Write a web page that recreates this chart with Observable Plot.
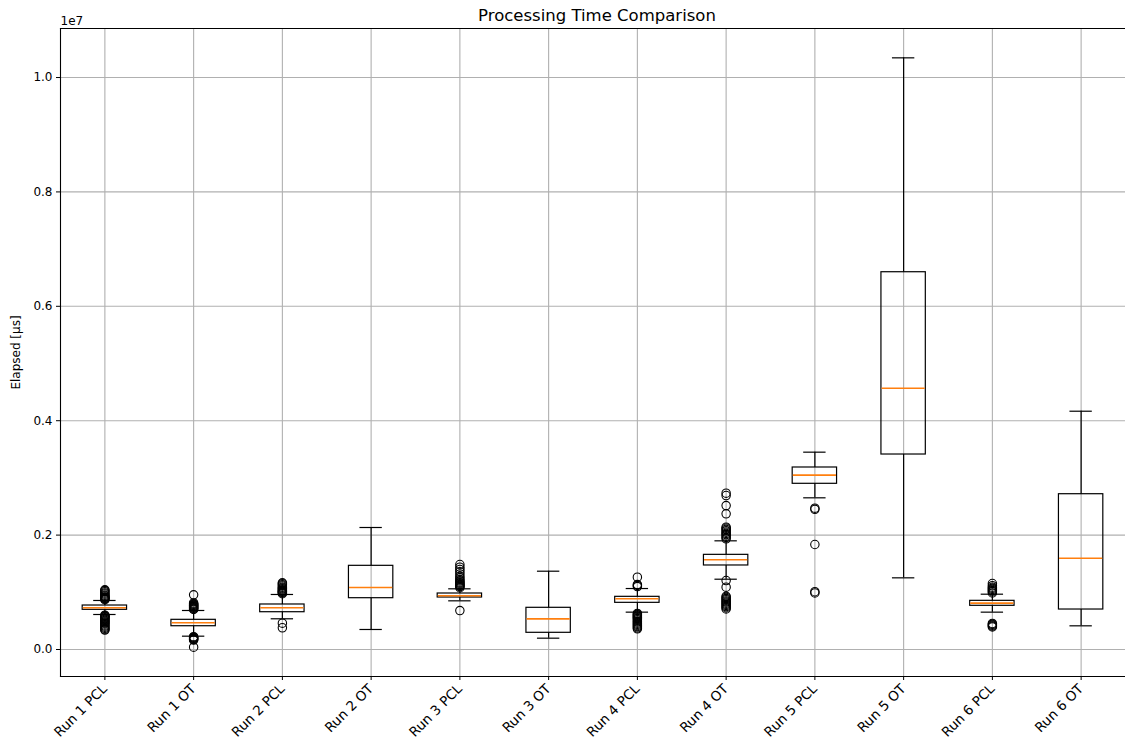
<!DOCTYPE html>
<html><head><meta charset="utf-8">
<script src="https://cdn.jsdelivr.net/npm/d3@7"></script>
<script src="https://cdn.jsdelivr.net/npm/@observablehq/plot@0.6"></script>
<style>body{margin:0;background:#fff;overflow:hidden}</style></head>
<body><div id="chart"></div>
<script>
const categories = ["Run 1 PCL","Run 1 OT","Run 2 PCL","Run 2 OT","Run 3 PCL","Run 3 OT","Run 4 PCL","Run 4 OT","Run 5 PCL","Run 5 OT","Run 6 PCL","Run 6 OT"];
// box statistics in microseconds
const whiskerLow  = [612e3, 233e3, 537e3, 350e3, 851e3, 198e3, 653e3, 1229e3, 2652e3, 1253e3, 653e3, 414e3];
const quartile1   = [694e3, 407e3, 652e3, 897e3, 909e3, 292e3, 816e3, 1469e3, 2897e3, 3409e3, 764e3, 699e3];
const medians     = [729e3, 467e3, 729e3, 1084e3, 939e3, 536e3, 886e3, 1568e3, 3048e3, 4568e3, 810e3, 1596e3];
const quartile3   = [769e3, 519e3, 787e3, 1463e3, 979e3, 729e3, 921e3, 1655e3, 3182e3, 6596e3, 851e3, 2715e3];
const whiskerHigh = [857e3, 682e3, 962e3, 2133e3, 1061e3, 1369e3, 1066e3, 1900e3, 3450e3, 10344e3, 967e3, 4166e3];
const outliers = [
  [870e3, 880e3, 890e3, 900e3, 910e3, 920e3, 935e3, 950e3, 970e3, 990e3, 1010e3, 1030e3, 1044e3, 600e3, 590e3, 580e3, 570e3, 555e3, 540e3, 525e3, 510e3, 495e3, 480e3, 465e3, 450e3, 430e3, 410e3, 390e3, 370e3, 350e3, 340e3],
  [700e3, 710e3, 720e3, 730e3, 740e3, 750e3, 760e3, 770e3, 780e3, 790e3, 800e3, 815e3, 956e3, 225e3, 215e3, 205e3, 195e3, 185e3, 175e3, 165e3, 40e3],
  [975e3, 990e3, 1000e3, 1010e3, 1020e3, 1030e3, 1045e3, 1060e3, 1075e3, 1090e3, 1110e3, 1130e3, 1150e3, 1166e3, 460e3, 380e3],
  [],
  [1080e3, 1100e3, 1110e3, 1120e3, 1135e3, 1150e3, 1165e3, 1180e3, 1200e3, 1220e3, 1250e3, 1280e3, 1320e3, 1360e3, 1400e3, 1440e3, 1486e3, 680e3],
  [],
  [1264e3, 1136e3, 1120e3, 1100e3, 630e3, 615e3, 600e3, 585e3, 570e3, 555e3, 540e3, 520e3, 500e3, 480e3, 460e3, 440e3, 420e3, 400e3, 380e3, 362e3],
  [1935e3, 1960e3, 1985e3, 2010e3, 2030e3, 2050e3, 2075e3, 2100e3, 2120e3, 2138e3, 2372e3, 2517e3, 2692e3, 2733e3, 1206e3, 1090e3, 930e3, 910e3, 890e3, 870e3, 850e3, 830e3, 810e3, 790e3, 770e3, 750e3, 730e3, 710e3],
  [2470e3, 2450e3, 1836e3, 1010e3, 990e3],
  [],
  [990e3, 1010e3, 1030e3, 1050e3, 1070e3, 1090e3, 1115e3, 1154e3, 455e3, 440e3, 425e3, 410e3, 395e3],
  []
];
const yTicks = [0, 2e6, 4e6, 6e6, 8e6, 10e6];
const titleText = "Processing Time Comparison";
const yLabel = "Elapsed [μs]";
const offsetText = "1e7";

const stats = categories.map((run, i) => ({run, wlo: whiskerLow[i], q1: quartile1[i], med: medians[i], q3: quartile3[i], whi: whiskerHigh[i]}));
const outlierRows = categories.flatMap((run, i) => outliers[i].map(value => ({run, value})));

const lw = 1.2;
const chart = Plot.plot({
  width: 1125, height: 740,
  marginLeft: 60, marginRight: 0, marginTop: 28, marginBottom: 64,
  style: {fontFamily: "'DejaVu Sans', sans-serif", fontSize: "12px", background: "#fff", color: "#000"},
  x: {type: "band", domain: categories, paddingInner: 0.5, paddingOuter: 0.25, round: false, label: null},
  y: {domain: [-472e3, 10857e3], ticks: yTicks, tickFormat: d => (d / 1e7).toFixed(1), label: yLabel, labelAnchor: "center", labelArrow: "none", labelOffset: 49, tickSize: 4, tickPadding: 4},
  marks: [
    Plot.ruleY(yTicks, {y: d => d, stroke: "#b0b0b0", strokeWidth: 1.1}),
    Plot.ruleX(categories, {x: d => d, stroke: "#b0b0b0", strokeWidth: 1.1}),
    Plot.axisX({tickRotate: -45, tickSize: 4, tickPadding: 6, fontSize: 13.5, label: null}),
    Plot.ruleX(stats, {x: "run", y1: "wlo", y2: "q1", stroke: "black", strokeWidth: lw}),
    Plot.ruleX(stats, {x: "run", y1: "q3", y2: "whi", stroke: "black", strokeWidth: lw}),
    Plot.tickY(stats, {x: "run", y: "wlo", stroke: "black", strokeWidth: lw, insetLeft: 11, insetRight: 11}),
    Plot.tickY(stats, {x: "run", y: "whi", stroke: "black", strokeWidth: lw, insetLeft: 11, insetRight: 11}),
    Plot.barY(stats, {x: "run", y1: "q1", y2: "q3", fill: "none", stroke: "black", strokeWidth: lw}),
    Plot.tickY(stats, {x: "run", y: "med", stroke: "#ff7f0e", strokeWidth: 1.6, insetLeft: 0.6, insetRight: 0.6}),
    Plot.dot(outlierRows, {x: "run", y: "value", r: 4.2, stroke: "black", fill: "none", strokeWidth: 1.1}),
    Plot.frame({anchor: "left", stroke: "black", strokeWidth: 1.1}),
    Plot.frame({anchor: "top", stroke: "black", strokeWidth: 1.1}),
    Plot.frame({anchor: "bottom", stroke: "black", strokeWidth: 1.1}),
    Plot.text([titleText], {frameAnchor: "top", dy: -19, dx: 4, fontSize: 16.5}),
    Plot.text([offsetText], {frameAnchor: "top-left", textAnchor: "start", dy: -12, fontSize: 12})
  ]
});
document.getElementById("chart").appendChild(chart);
</script></body></html>
